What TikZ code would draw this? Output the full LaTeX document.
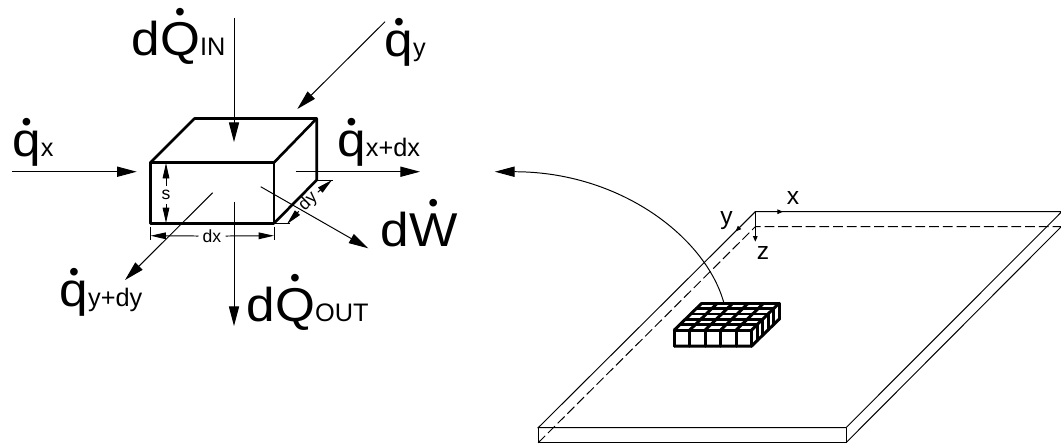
\documentclass[tikz,border=0pt]{standalone}
\usepackage{fontspec}
\setmainfont{Liberation Sans}
\newfontfamily\widefont[FakeStretch=1.08]{Liberation Sans}
\usetikzlibrary{arrows.meta}
\newcommand{\dotover}[2]{\setbox0\hbox{#2}\hbox to \wd0{\hss\raisebox{#1}{\rmfamily\fontsize{8pt}{8pt}\selectfont\textbullet}\hss}\kern-\wd0\box0}
\tikzset{
  thinline/.style={line width=0.28pt},
  boxline/.style={line width=0.75pt,line join=round},
  meshline/.style={line width=0.85pt,line join=round,line cap=round},
  flowarrow/.style={thinline,-{Triangle[length=5.6pt,width=2.9pt]}},
  dimarrow/.style={thinline,-{Triangle[length=4.4pt,width=1.9pt]}},
  axisarrow/.style={thinline,-{Triangle[length=1.6pt,width=1.3pt]}},
  biglabel/.style={anchor=base west,inner sep=0pt,font=\widefont\fontsize{13.5pt}{13.5pt}\selectfont},
  dimlabel/.style={inner sep=1pt,font=\fontsize{5pt}{5pt}\selectfont},
  axislabel/.style={inner sep=0pt,font=\fontsize{7pt}{7pt}\selectfont}
}
\newcommand{\subtext}[1]{{\rmfamily\fontsize{7.2pt}{7.2pt}\selectfont #1}}
\begin{document}
\begin{tikzpicture}[x=0.01cm,y=-0.01cm]
\useasboundingbox (0,0) rectangle (1061,444);

% Drawing element
\draw [boxline] (150.5,162.5) rectangle (274,223.3);
\draw [boxline] (150.5,162.5) -- (194.5,118.5) -- (316.7,118.5) -- (274,162.5);
\draw [boxline] (316.7,118.5) -- (316.7,180) -- (274,223.3);

% Naming arrow ends
\coordinate (qinstart) at (234,18);
\coordinate (qinend) at (234,142);
\coordinate (qoutstart) at (234,202);
\coordinate (qoutend) at (234,326);
\coordinate (qystart) at (385,21.7);
\coordinate (qyend) at (297.3,109);
\coordinate (qxstart) at (12.3,171.7);
\coordinate (qxend) at (136.7,171.7);
\coordinate (qxdxstart) at (295.7,171.7);
\coordinate (qxdxend) at (420,171.7);
\coordinate (qydystart) at (212.7,192.7);
\coordinate (qydyend) at (125,280);
\coordinate (wstart) at (260.7,186.7);
\coordinate (wend) at (368.3,248.3);

% Drawing flow arrows
\draw [flowarrow] (qinstart) -- (qinend);
\draw [flowarrow] (qoutstart) -- (qoutend);
\draw [flowarrow] (qystart) -- (qyend);
\draw [flowarrow] (qxstart) -- (qxend);
\draw [flowarrow] (qxdxstart) -- (qxdxend);
\draw [flowarrow] (qydystart) -- (qydyend);
\draw [flowarrow] (wstart) -- (wend);

% Flow labels
\node [biglabel] (qinlabel) at (131,55) {d\dotover{9.6pt}{Q}\subtext{IN}};
\node [biglabel] (qylabel) at (384,56.7) {\dotover{7.3pt}{q}\subtext{y}};
\node [biglabel] (qxlabel) at (11.7,156.7) {\dotover{7.3pt}{q}\subtext{x}};
\node [biglabel] (qxdxlabel) at (336.7,156.7) {\dotover{7.3pt}{q}\subtext{x+dx}};
\node [biglabel] (wlabel) at (380,246.7) {d\dotover{9.8pt}{W}};
\node [biglabel] (qydylabel) at (59,306.7) {\dotover{7.3pt}{q}\subtext{y+dy}};
\node [biglabel] (qoutlabel) at (246,321.7) {d\dotover{9.6pt}{Q}\subtext{OUT}};

% Dimension s
\node [dimlabel] (slabel) at (166,195) {s};
\coordinate (stop) at (166,163);
\coordinate (sbottom) at (166,223);
\draw [dimarrow] (slabel.north) -- (stop);
\draw [dimarrow] (slabel.south) -- (sbottom);

% Dimension dx
\node [dimlabel] (dxlabel) at (212,236) {dx};
\coordinate (dxleft) at (150.5,235.7);
\coordinate (dxright) at (274,235.7);
\draw [thinline] (150.5,226.7) -- (150.5,240);
\draw [thinline] (274,226.7) -- (274,240);
\draw [dimarrow] (dxlabel.west) -- (dxleft);
\draw [dimarrow] (dxlabel.east) -- (dxright);

% Dimension dy
\node [dimlabel,rotate=45] (dylabel) at (308.3,201.7) {dy};
\coordinate (dylow) at (287,224);
\coordinate (dyhigh) at (332,180);
\draw [thinline] (274,223.7) -- (290,223.7);
\draw [thinline] (317,180) -- (333,180);
\draw [dimarrow] (dylabel.west) -- (dylow);
\draw [dimarrow] (dylabel.east) -- (dyhigh);

% Drawing plate
\draw [thinline] (1061,211.7) -- (755.3,211.7) -- (538.2,427.7) -- (846,427.7) -- (1061.7,211.7);
\draw [thinline] (538.2,427.7) -- (538.2,442.7) -- (846,442.7) -- (846,427.7);
\draw [thinline] (846,442.7) -- (1061,226.9);
\draw [thinline,dash pattern=on 2.8pt off 1.1pt] (538.2,442.7) -- (755.3,226.7) -- (1061,226.7);

% Drawing axes
\node [axislabel] (xlabel) at (793,198) {x};
\node [axislabel] (ylabel) at (726.4,220.7) {y};
\node [axislabel] (zlabel) at (763,253) {z};
\coordinate (origin) at (755.3,211.7);
\coordinate (xtip) at (783,211.7);
\coordinate (ytip) at (735.6,231.4);
\coordinate (ztip) at (755.3,241.7);
\draw [axisarrow] (origin) -- (xtip);
\draw [axisarrow] (origin) -- (ytip);
\draw [axisarrow] (origin) -- (ztip);

% Drawing mesh
\foreach \i in {0,...,5} {
  \draw [meshline] ({674.3+15.46*\i},330) -- ({674.3+15.46*\i},346);
  \draw [meshline] ({674.3+15.46*\i},330) -- ({701.7+15.46*\i},303.3);
  \draw [meshline] ({674.3+5.48*\i},{330-5.34*\i}) -- ({751.6+5.48*\i},{330-5.34*\i});
  \draw [meshline] ({751.6+5.48*\i},{330-5.34*\i}) -- ({751.6+5.48*\i},{346-5.34*\i});
}
\draw [meshline] (674.3,346) -- (751.6,346) -- (779,319.3);

% Drawing curved arrow
\coordinate (curvestart) at (723.8,302.7);
\coordinate (curveend) at (494.8,171.7);
\draw [flowarrow] (curvestart) .. controls (706,238) and (621,171.7) .. (curveend);
\end{tikzpicture}
\end{document}
